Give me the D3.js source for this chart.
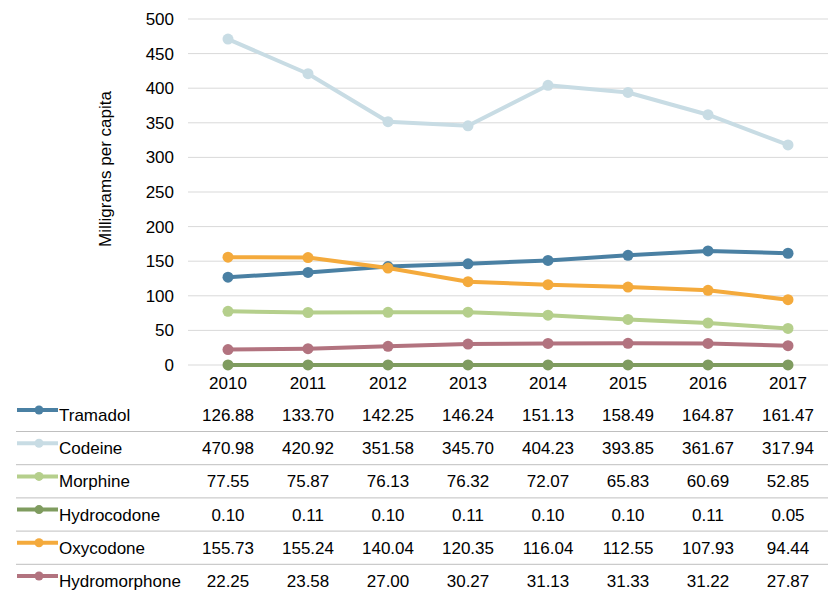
<!DOCTYPE html>
<html><head><meta charset="utf-8">
<script src="https://cdn.jsdelivr.net/npm/d3@7"></script>
<style>body{margin:0;background:#fff;}svg{display:block;font-family:"Liberation Sans",Arial,sans-serif;}</style>
</head><body><svg id="c" width="839" height="603"></svg>
<script>
const years = ["2010","2011","2012","2013","2014","2015","2016","2017"];
const seriesNames = ["Tramadol","Codeine","Morphine","Hydrocodone","Oxycodone","Hydromorphone"];
const tramadol = [126.88,133.70,142.25,146.24,151.13,158.49,164.87,161.47];
const codeine = [470.98,420.92,351.58,345.70,404.23,393.85,361.67,317.94];
const morphine = [77.55,75.87,76.13,76.32,72.07,65.83,60.69,52.85];
const hydrocodone = [0.10,0.11,0.10,0.11,0.10,0.10,0.11,0.05];
const oxycodone = [155.73,155.24,140.04,120.35,116.04,112.55,107.93,94.44];
const hydromorphone = [22.25,23.58,27.00,30.27,31.13,31.33,31.22,27.87];
const yTicks = [0,50,100,150,200,250,300,350,400,450,500];
const colors = ["#4a80a3","#c8dce4","#b5cf8c","#7f9c5f","#f4aa3c","#b2737f"];
const yTitle = "Milligrams per capita";

const values = [tramadol,codeine,morphine,hydrocodone,oxycodone,hydromorphone];
const svg = d3.select("#c");
const x = d3.scaleBand().domain(years).range([188,828]);
const y = d3.scaleLinear().domain([0,500]).range([365,19]);

svg.append("g").selectAll("line").data(yTicks).join("line")
  .attr("x1",188).attr("x2",828).attr("y1",d=>y(d)).attr("y2",d=>y(d))
  .attr("stroke","#d9d9d9").attr("stroke-width",1);
svg.append("g").selectAll("text").data(yTicks).join("text")
  .attr("x",174).attr("y",d=>y(d)).attr("dy","0.35em").attr("text-anchor","end")
  .attr("font-size",17).attr("fill","#000").text(d=>d);
svg.append("text").attr("transform","translate(111,169) rotate(-90)")
  .attr("text-anchor","middle").attr("font-size",17).text(yTitle);

const cx = d => x(d)+x.bandwidth()/2;
const order = [1,0,2,4,5,3];
order.forEach(i=>{
  const g = svg.append("g");
  const pts = years.map((yr,j)=>({yr,v:values[i][j]}));
  g.append("path").datum(pts)
    .attr("d",d3.line().x(d=>cx(d.yr)).y(d=>y(d.v)))
    .attr("fill","none").attr("stroke",colors[i]).attr("stroke-width",4).attr("stroke-linejoin","round");
  g.selectAll("circle").data(pts).join("circle")
    .attr("cx",d=>cx(d.yr)).attr("cy",d=>y(d.v)).attr("r",5.5).attr("fill",colors[i]);
});

svg.append("g").selectAll("text").data(years).join("text")
  .attr("x",cx).attr("y",383).attr("dy","0.35em").attr("text-anchor","middle")
  .attr("font-size",17).text(d=>d);

const rowY = i => 415 + i*33.2;
const tg = svg.append("g");
seriesNames.forEach((name,i)=>{
  const ry = rowY(i);
  tg.append("line").attr("x1",17).attr("x2",58).attr("y1",ry-5).attr("y2",ry-5)
    .attr("stroke",colors[i]).attr("stroke-width",4);
  tg.append("circle").attr("cx",39).attr("cy",ry-5).attr("r",4.5).attr("fill",colors[i]);
  tg.append("text").attr("x",59).attr("y",ry).attr("dy","0.35em").attr("font-size",17).text(name);
  tg.selectAll(null).data(years).join("text")
    .attr("x",cx).attr("y",ry).attr("dy","0.35em").attr("text-anchor","middle")
    .attr("font-size",17).text((d,j)=>values[i][j].toFixed(2));
  if(i<seriesNames.length-1){
    tg.append("line").attr("x1",16).attr("x2",828).attr("y1",ry+16.5).attr("y2",ry+16.5)
      .attr("stroke","#bfbfbf").attr("stroke-width",1);
  }
});
</script></body></html>
